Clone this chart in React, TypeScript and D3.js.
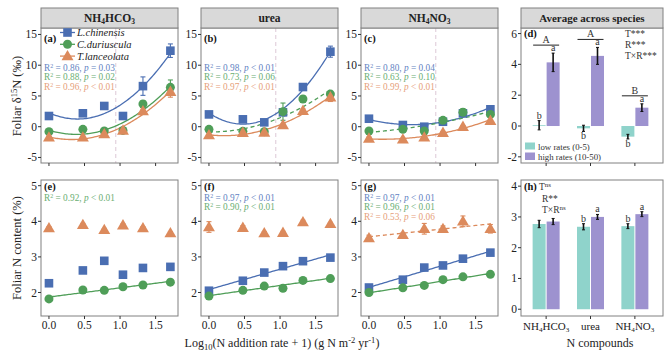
import React from 'react';
import * as d3 from 'd3';

const xRates = [0, 0.477, 0.778, 1.041, 1.322, 1.708];
const xTicks = [0, 0.5, 1.0, 1.5];
const speciesNames = ['L.chinensis', 'C.duriuscula', 'T.lanceolata'];
const compoundNames = ['NH4HCO3', 'urea', 'NH4NO3'];

// Foliar d15N (‰) by compound, per species
const d15N_NH4HCO3_Lc = [1.74, 2.18, 3.37, 1.74, 6.6, 12.36];
const d15N_NH4HCO3_Cd = [-0.8, -0.43, -0.7, -0.6, 3.7, 6.4];
const d15N_NH4HCO3_Tl = [-1.73, -1.73, -1.19, -0.6, 2.55, 5.7];
const d15N_urea_Lc = [2.0, 1.2, 0.71, 2.34, 6.45, 12.2];
const d15N_urea_Cd = [-0.43, -0.75, -0.8, 2.45, 4.5, 5.3];
const d15N_urea_Tl = [-1.35, -0.97, -0.92, 0.28, 2.6, 4.8];
const d15N_NH4NO3_Lc = [1.3, 0.28, 0.0, 0.81, 2.18, 2.83];
const d15N_NH4NO3_Cd = [-0.7, -0.43, -0.7, 1.04, 2.34, 2.0];
const d15N_NH4NO3_Tl = [-1.9, -2.05, -1.73, -0.97, 0.0, 0.98];

const d15N_NH4HCO3_Lc_se = [0.2, 0.2, 0.2, 0.2, 1.5, 1.1];
const d15N_NH4HCO3_Cd_se = [0.2, 0.2, 0.2, 0.2, 0.5, 1.2];
const d15N_NH4HCO3_Tl_se = [0.2, 0.2, 0.2, 0.2, 0.3, 0.9];
const d15N_urea_Lc_se = [0.2, 0.2, 0.2, 0.3, 0.3, 0.9];
const d15N_urea_Cd_se = [0.3, 0.2, 0.2, 1.4, 0.5, 0.4];
const d15N_urea_Tl_se = [0.2, 0.2, 0.2, 0.2, 0.3, 0.7];
const d15N_NH4NO3_Lc_se = [0.2, 0.2, 0.2, 0.3, 0.4, 0.3];
const d15N_NH4NO3_Cd_se = [0.2, 0.2, 0.5, 0.4, 0.6, 0.3];
const d15N_NH4NO3_Tl_se = [0.2, 0.2, 0.2, 0.2, 0.2, 0.2];

// Foliar N content (%)
const N_NH4HCO3_Lc = [2.26, 2.62, 2.89, 2.5, 2.69, 2.72];
const N_NH4HCO3_Cd = [1.82, 2.07, 2.06, 2.16, 2.21, 2.29];
const N_NH4HCO3_Tl = [3.81, 3.9, 3.76, 3.89, 3.81, 3.67];
const N_urea_Lc = [2.05, 2.33, 2.56, 2.74, 2.88, 2.98];
const N_urea_Cd = [1.9, 2.06, 2.18, 2.12, 2.34, 2.39];
const N_urea_Tl = [3.84, 3.82, 3.67, 3.68, 3.98, 3.93];
const N_NH4NO3_Lc = [2.14, 2.36, 2.7, 2.76, 2.95, 3.12];
const N_NH4NO3_Cd = [2.0, 2.13, 2.2, 2.36, 2.44, 2.51];
const N_NH4NO3_Tl = [3.53, 3.62, 3.79, 3.79, 4.0, 3.79];

const N_se_small = [0.04, 0.04, 0.04, 0.04, 0.04, 0.04];
const N_NH4HCO3_Lc_se = [0.04, 0.04, 0.04, 0.08, 0.04, 0.04];
const N_urea_Tl_se = [0.15, 0.06, 0.04, 0.04, 0.05, 0.04];
const N_NH4NO3_Tl_se = [0.08, 0.05, 0.15, 0.08, 0.15, 0.12];

// fit annotations: [R², p-operator, p]
const statsTop = [
  [['0.86', '=', '0.03'], ['0.88', '=', '0.02'], ['0.96', '<', '0.01']],
  [['0.98', '<', '0.01'], ['0.73', '=', '0.06'], ['0.97', '<', '0.01']],
  [['0.80', '=', '0.04'], ['0.63', '=', '0.10'], ['0.99', '<', '0.01']],
];
const fitTop = [
  ['solid', 'solid', 'solid'],
  ['solid', 'dashed', 'solid'],
  ['solid', 'dashed', 'solid'],
];
const statsBottom = [
  [null, ['0.92', '<', '0.01'], null],
  [['0.97', '<', '0.01'], ['0.90', '<', '0.01'], null],
  [['0.97', '<', '0.01'], ['0.96', '<', '0.01'], ['0.53', '=', '0.06']],
];
const fitBottom = [
  [null, 'solid', null],
  ['solid', 'solid', null],
  ['solid', 'solid', 'dashed'],
];
const thresholdX = 0.94;

// averages across species
const avgD15N_low = [0.05, -0.15, -0.69];
const avgD15N_high = [4.13, 4.55, 1.19];
const avgD15N_low_se = [0.3, 0.2, 0.15];
const avgD15N_high_se = [0.6, 0.55, 0.25];
const avgD15N_lowLetters = ['b', 'b', 'b'];
const avgD15N_highLetters = ['a', 'a', 'a'];
const avgD15N_groupLetters = ['A', 'A', 'B'];
const avgN_low = [2.77, 2.68, 2.7];
const avgN_high = [2.85, 3.0, 3.09];
const avgN_low_se = [0.12, 0.1, 0.08];
const avgN_high_se = [0.1, 0.08, 0.08];
const avgN_lowLetters = ['', 'b', 'b'];
const avgN_highLetters = ['', 'a', 'a'];

const topTicks = [15, 10, 5, 0, -5];
const bottomTicks = [5, 4, 3, 2];
const dTicks = [6, 4, 2, 0, -2];
const hTicks = [4, 3, 2, 1, 0];

const COLORS = ['#4a6eb2', '#4f9e58', '#dc8a5c'];
const TEXT_COLORS = ['#6383c2', '#6aae72', '#e6a07a'];
const LOW_C = '#8fd3cb';
const HIGH_C = '#9d92cf';
const FONT = 'Liberation Serif, Times New Roman, DejaVu Serif, serif';

function quadFit(xs: number[], ys: number[]) {
  const n = xs.length;
  let s1 = 0, s2 = 0, s3 = 0, s4 = 0, t0 = 0, t1 = 0, t2 = 0;
  for (let i = 0; i < n; i++) {
    const x = xs[i], y = ys[i];
    s1 += x; s2 += x * x; s3 += x * x * x; s4 += x * x * x * x;
    t0 += y; t1 += x * y; t2 += x * x * y;
  }
  const M = [[n, s1, s2, t0], [s1, s2, s3, t1], [s2, s3, s4, t2]];
  for (let i = 0; i < 3; i++) {
    for (let k = i + 1; k < 3; k++) {
      const f = M[k][i] / M[i][i];
      for (let j = i; j < 4; j++) M[k][j] -= f * M[i][j];
    }
  }
  const c = [0, 0, 0];
  for (let i = 2; i >= 0; i--) {
    let s = M[i][3];
    for (let j = i + 1; j < 3; j++) s -= M[i][j] * c[j];
    c[i] = s / M[i][i];
  }
  return (x: number) => c[0] + c[1] * x + c[2] * x * x;
}
function linFit(xs: number[], ys: number[]) {
  const mx = d3.mean(xs)!, my = d3.mean(ys)!;
  let sxy = 0, sxx = 0;
  xs.forEach((x, i) => { sxy += (x - mx) * (ys[i] - my); sxx += (x - mx) * (x - mx); });
  const b = sxy / sxx;
  return (x: number) => my + b * (x - mx);
}

function Marker({ s, x, y }: { s: number; x: number; y: number }) {
  if (s === 0) return <rect x={x - 4.3} y={y - 4.3} width={8.6} height={8.6} fill={COLORS[0]} />;
  if (s === 1) return <circle cx={x} cy={y} r={4.5} fill={COLORS[1]} />;
  const p = d3.symbol(d3.symbolTriangle, 62)();
  return <path d={p as string} transform={`translate(${x},${y + 0.8})`} fill={COLORS[2]} />;
}

function Compound({ name, x, y, size, bold }: any) {
  const m = name.match(/^NH4(HCO|NO)3$/);
  const fw = bold ? 'bold' : 'normal';
  if (!m) return <text x={x} y={y} textAnchor="middle" fontSize={size} fontWeight={fw} fill="#222">{name}</text>;
  return (
    <text x={x} y={y} textAnchor="middle" fontSize={size} fontWeight={fw} fill="#222">
      NH<tspan fontSize={size * 0.65} dy={2}>4</tspan><tspan dy={-2}>{m[1]}</tspan><tspan fontSize={size * 0.65} dy={2}>3</tspan>
    </text>
  );
}

const topData = [
  [d15N_NH4HCO3_Lc, d15N_NH4HCO3_Cd, d15N_NH4HCO3_Tl],
  [d15N_urea_Lc, d15N_urea_Cd, d15N_urea_Tl],
  [d15N_NH4NO3_Lc, d15N_NH4NO3_Cd, d15N_NH4NO3_Tl],
];
const topSe = [
  [d15N_NH4HCO3_Lc_se, d15N_NH4HCO3_Cd_se, d15N_NH4HCO3_Tl_se],
  [d15N_urea_Lc_se, d15N_urea_Cd_se, d15N_urea_Tl_se],
  [d15N_NH4NO3_Lc_se, d15N_NH4NO3_Cd_se, d15N_NH4NO3_Tl_se],
];
const botData = [
  [N_NH4HCO3_Lc, N_NH4HCO3_Cd, N_NH4HCO3_Tl],
  [N_urea_Lc, N_urea_Cd, N_urea_Tl],
  [N_NH4NO3_Lc, N_NH4NO3_Cd, N_NH4NO3_Tl],
];
const botSe = [
  [N_NH4HCO3_Lc_se, N_se_small, N_se_small],
  [N_se_small, N_se_small, N_urea_Tl_se],
  [N_se_small, N_se_small, N_NH4NO3_Tl_se],
];

const PANEL_X = [[41, 178], [201, 338], [361, 498]];
const TOP = [28, 163];
const BOT = [180, 316];
const RIGHT_X = [521, 663];
const FRAME = '#808080';
const TICK = '#333';

function ScatterPanel({ pi, row }: { pi: number; row: 'top' | 'bottom' }) {
  const [l, r] = PANEL_X[pi];
  const [t, b] = row === 'top' ? TOP : BOT;
  const x = d3.scaleLinear().domain([-0.112, 1.815]).range([l, r]);
  const y = row === 'top'
    ? d3.scaleLinear().domain([-5.9, 16.05]).range([b, t])
    : d3.scaleLinear().domain([1.34, 5.16]).range([b, t]);
  const data = row === 'top' ? topData[pi] : botData[pi];
  const se = row === 'top' ? topSe[pi] : botSe[pi];
  const fits = row === 'top' ? fitTop[pi] : fitBottom[pi];
  const stats = row === 'top' ? statsTop[pi] : statsBottom[pi];
  const ticks = row === 'top' ? topTicks : bottomTicks;
  const label = '(' + 'abcdefg'[row === 'top' ? pi : pi + 4] + ')';
  const grid = d3.range(0, 1.7081, 0.02).concat([1.708]);
  let line = 0;
  return (
    <g>
      <rect x={l} y={t} width={r - l} height={b - t} fill="white" />
      {row === 'top' && (
        <line x1={x(thresholdX)} x2={x(thresholdX)} y1={t} y2={b} stroke="#dcc8d6" strokeWidth={1} strokeDasharray="4,3" />
      )}
      {data.map((ys, s) => {
        const ft = fits[s];
        if (!ft) return null;
        const f = row === 'top' ? quadFit(xRates, ys) : linFit(xRates, ys);
        const path = d3.line<number>().x(g => x(g)).y(g => y(f(g)))(grid)!;
        return <path key={'f' + s} d={path} fill="none" stroke={COLORS[s]} strokeWidth={1.3} strokeDasharray={ft === 'dashed' ? '4,3' : undefined} />;
      })}
      {data.map((ys, s) => ys.map((v, i) => (
        <g key={'e' + s + i} stroke={COLORS[s]} strokeWidth={1.1}>
          <line x1={x(xRates[i])} x2={x(xRates[i])} y1={y(v - se[s][i])} y2={y(v + se[s][i])} />
          <line x1={x(xRates[i]) - 2.5} x2={x(xRates[i]) + 2.5} y1={y(v - se[s][i])} y2={y(v - se[s][i])} />
          <line x1={x(xRates[i]) - 2.5} x2={x(xRates[i]) + 2.5} y1={y(v + se[s][i])} y2={y(v + se[s][i])} />
        </g>
      )))}
      {data.map((ys, s) => ys.map((v, i) => <Marker key={'m' + s + i} s={s} x={x(xRates[i])} y={y(v)} />))}
      <rect x={l} y={t} width={r - l} height={b - t} fill="none" stroke={FRAME} strokeWidth={1} />
      {ticks.map(tv => (
        <g key={'yt' + tv}>
          <line x1={l - 3} x2={l} y1={y(tv)} y2={y(tv)} stroke={TICK} />
          <text x={l - 4} y={y(tv) + 4} textAnchor="end" fontSize={11.5} fill="#222">{tv}</text>
        </g>
      ))}
      {xTicks.map(tv => (
        <g key={'xt' + tv}>
          <line x1={x(tv)} x2={x(tv)} y1={b} y2={b + 3} stroke={TICK} />
          {row === 'bottom' && <text x={x(tv)} y={b + 13} textAnchor="middle" fontSize={11.5} fill="#222">{tv.toFixed(1)}</text>}
        </g>
      ))}
      <text x={l + 3} y={row === 'top' ? t + 14 : t + 10} fontSize={10.5} fontWeight="bold" fill="#111">{label}</text>
      {stats.map((st, s) => {
        if (!st) return null;
        const yy = (row === 'top' ? t + 43 : t + 21) + line * 9.4;
        line++;
        return (
          <text key={'st' + s} x={l + 3} y={yy} fontSize={9.3} fill={TEXT_COLORS[s]}>
            R<tspan fontSize={6} dy={-3.2}>2</tspan><tspan dy={3.2}>{` = ${st[0]}, `}</tspan><tspan fontStyle="italic">p</tspan>{` ${st[1]} ${st[2]}`}
          </text>
        );
      })}
      {row === 'top' && (
        <g>
          <rect x={l} y={t - 20} width={r - l} height={20} fill="#d9d9d9" stroke={FRAME} />
          <Compound name={compoundNames[pi]} x={(l + r) / 2} y={t - 6} size={11.5} bold />
        </g>
      )}
    </g>
  );
}

function Legend() {
  const l = 41;
  return (
    <g>
      {speciesNames.map((n, s) => (
        <g key={n}>
          <line x1={l + 19} x2={l + 34} y1={32.5 + s * 11.8} y2={32.5 + s * 11.8} stroke={COLORS[s]} strokeWidth={1.3} />
          <Marker s={s} x={l + 26.5} y={32.5 + s * 11.8} />
          <text x={l + 36} y={36 + s * 11.8} fontSize={10.5} fontStyle="italic" fill="#222">{n}</text>
        </g>
      ))}
    </g>
  );
}

function BarPanel({ row }: { row: 'top' | 'bottom' }) {
  const [l, r] = RIGHT_X;
  const [t, b] = row === 'top' ? TOP : BOT;
  const x = d3.scalePoint<string>().domain(compoundNames).range([l, r]).padding(0.6);
  const y = row === 'top'
    ? d3.scaleLinear().domain([-2.4, 6.36]).range([b, t])
    : d3.scaleLinear().domain([-0.22, 4.2]).range([b, t]);
  const low = row === 'top' ? avgD15N_low : avgN_low;
  const high = row === 'top' ? avgD15N_high : avgN_high;
  const lowSe = row === 'top' ? avgD15N_low_se : avgN_low_se;
  const highSe = row === 'top' ? avgD15N_high_se : avgN_high_se;
  const lowL = row === 'top' ? avgD15N_lowLetters : avgN_lowLetters;
  const highL = row === 'top' ? avgD15N_highLetters : avgN_highLetters;
  const ticks = row === 'top' ? dTicks : hTicks;
  const bw = 13;
  const err = (cx: number, v: number, e: number, key: string) => (
    <g key={key} stroke="#111" strokeWidth={1.6}>
      <line x1={cx} x2={cx} y1={y(v - e)} y2={y(v + e)} />
      <line x1={cx - 1.5} x2={cx + 1.5} y1={y(v - e)} y2={y(v - e)} strokeWidth={1} />
      <line x1={cx - 1.5} x2={cx + 1.5} y1={y(v + e)} y2={y(v + e)} strokeWidth={1} />
    </g>
  );
  return (
    <g>
      <rect x={l} y={t} width={r - l} height={b - t} fill="white" />
      {compoundNames.map((c, i) => {
        const cx = x(c)! - 1.5;
        const lx = cx - bw - 0.5, hx = cx + 0.5;
        return (
          <g key={c}>
            <rect x={lx} y={Math.min(y(0), y(low[i]))} width={bw} height={Math.abs(y(0) - y(low[i]))} fill={LOW_C} />
            <rect x={hx} y={Math.min(y(0), y(high[i]))} width={bw} height={Math.abs(y(0) - y(high[i]))} fill={HIGH_C} />
            {err(lx + bw / 2, low[i], lowSe[i], 'le')}
            {err(hx + bw / 2, high[i], highSe[i], 'he')}
            {lowL[i] && (
              <text x={lx + bw / 2} y={low[i] >= 0 ? y(low[i] + lowSe[i]) - 2 : y(low[i] - lowSe[i]) + 8} textAnchor="middle" fontSize={10} fill="#333">{lowL[i]}</text>
            )}
            {highL[i] && (
              <text x={hx + bw / 2} y={y(high[i] + highSe[i]) - 2} textAnchor="middle" fontSize={10} fill="#333">{highL[i]}</text>
            )}
            {row === 'top' && (
              <g>
                <line x1={cx - 13} x2={cx + 13} y1={y(high[i] + highSe[i]) - 8} y2={y(high[i] + highSe[i]) - 8} stroke="#222" strokeWidth={1} />
                <text x={cx} y={y(high[i] + highSe[i]) - 10} textAnchor="middle" fontSize={10} fill="#333">{avgD15N_groupLetters[i]}</text>
              </g>
            )}
          </g>
        );
      })}
      <rect x={l} y={t} width={r - l} height={b - t} fill="none" stroke={FRAME} />
      {ticks.map(tv => (
        <g key={'yt' + tv}>
          <line x1={l - 3} x2={l} y1={y(tv)} y2={y(tv)} stroke={TICK} />
          <text x={l - 4} y={y(tv) + 4} textAnchor="end" fontSize={11.5} fill="#222">{tv}</text>
        </g>
      ))}
      {compoundNames.map(c => (
        <g key={'xt' + c}>
          <line x1={x(c)! - 1.5} x2={x(c)! - 1.5} y1={b} y2={b + 3} stroke={TICK} />
          {row === 'bottom' && <Compound name={c} x={x(c)! - 1.5} y={b + 14} size={11} />}
        </g>
      ))}
      <text x={l + 3} y={row === 'top' ? t + 9 : t + 10} fontSize={10.5} fontWeight="bold" fill="#111">{row === 'top' ? '(d)' : '(h)'}</text>
      {row === 'top' ? (
        <g fontSize={9.5} fill="#333">
          <text x={625} y={37}>T***</text>
          <text x={625} y={48}>R***</text>
          <text x={625} y={59}>T×R***</text>
          <rect x={525} y={142.5} width={10} height={7} fill={LOW_C} />
          <rect x={525} y={152.5} width={10} height={7.5} fill={HIGH_C} />
          <text x={538} y={149.8} fontSize={8.8}>low rates (0-5)</text>
          <text x={538} y={159.8} fontSize={8.8}>high rates (10-50)</text>
          <rect x={l} y={t - 20} width={r - l} height={20} fill="#d9d9d9" stroke={FRAME} />
          <text x={(l + r) / 2} y={t - 6} textAnchor="middle" fontSize={11} fontWeight="bold" fill="#222">Average across species</text>
        </g>
      ) : (
        <g fontSize={9.5} fill="#333">
          <text x={539} y={190}>T<tspan fontSize={7} dy={-3}>ns</tspan></text>
          <text x={542} y={202}>R**</text>
          <text x={542} y={213}>T×R<tspan fontSize={7} dy={-3}>ns</tspan></text>
        </g>
      )}
    </g>
  );
}

export default function App() {
  return (
    <svg width={668} height={353} fontFamily={FONT} style={{ position: 'absolute', left: 0, top: 0 }}>
      <rect width={668} height={353} fill="white" />
      {[0, 1, 2].map(i => <ScatterPanel key={'t' + i} pi={i} row="top" />)}
      {[0, 1, 2].map(i => <ScatterPanel key={'b' + i} pi={i} row="bottom" />)}
      <Legend />
      <BarPanel row="top" />
      <BarPanel row="bottom" />
      <text transform="translate(21,96) rotate(-90)" textAnchor="middle" fontSize={12.5} fill="#222">
        Foliar δ<tspan fontSize={8.5} dy={-4}>15</tspan><tspan dy={4}>N (‰)</tspan>
      </text>
      <text transform="translate(21,248) rotate(-90)" textAnchor="middle" fontSize={12.5} fill="#222">Foliar N content (%)</text>
      <text x={282} y={347} textAnchor="middle" fontSize={12} fill="#222">
        Log<tspan fontSize={8.5} dy={3}>10</tspan><tspan dy={-3}>(N addition rate + 1) (g N m</tspan><tspan fontSize={8.5} dy={-4}>-2</tspan><tspan dy={4}> yr</tspan><tspan fontSize={8.5} dy={-4}>-1</tspan><tspan dy={4}>)</tspan>
      </text>
      <text x={600} y={347} textAnchor="middle" fontSize={12} fill="#222">N compounds</text>
    </svg>
  );
}
